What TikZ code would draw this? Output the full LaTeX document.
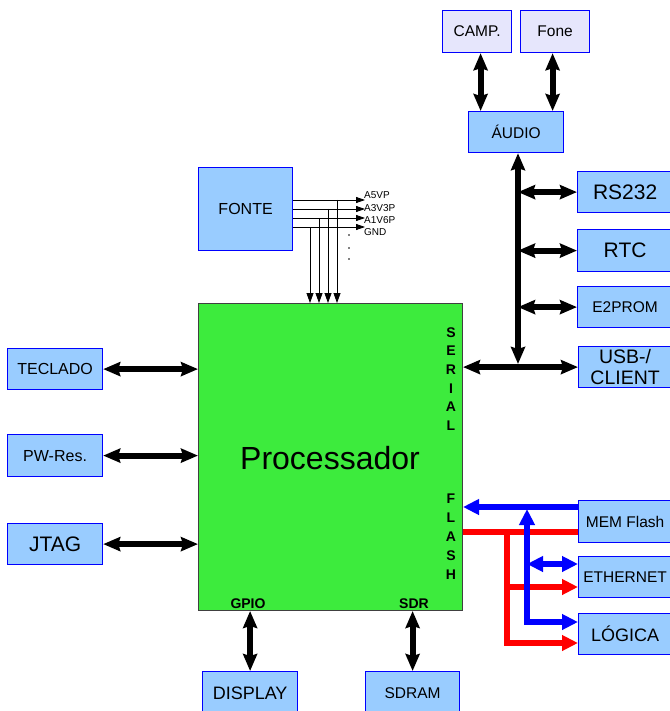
\documentclass[tikz,border=0pt]{standalone}
\usepackage{fontspec}
\setmainfont{Liberation Sans}
\usetikzlibrary{arrows.meta}
\definecolor{boxblue}{RGB}{153,204,255}
\definecolor{lav}{RGB}{230,230,252}
\definecolor{procgreen}{RGB}{61,235,61}
\newcommand\fsz[1]{\fontsize{#1}{#1}\selectfont}
\begin{document}
\begin{tikzpicture}[x=1pt,y=-1pt,
  bbox/.style={draw=blue, line width=1.2pt, fill=boxblue, inner sep=0pt, anchor=north west, align=center},
  lbox/.style={bbox, fill=lav},
  bigarrow/.style={line width=6pt, {Stealth[length=17pt,width=14pt,inset=2pt]}-{Stealth[length=17pt,width=14pt,inset=2pt]}},
  bluearrow/.style={draw=blue, line width=6pt},
  redarrow/.style={draw=red, line width=6pt},
  endtip/.style={-{Triangle[length=16pt,width=15pt]}},
  bothtip/.style={{Triangle[length=16pt,width=15pt]}-{Triangle[length=16pt,width=15pt]}},
  thinarrow/.style={line width=0.8pt, -{Triangle[length=9pt,width=6pt]}},
  downarrow/.style={line width=0.8pt, -{Triangle[length=10pt,width=7pt]}},
  lbl/.style={anchor=west, inner sep=0pt, font=\fsz{10}},
  bold/.style={font=\fsz{14}\bfseries, inner sep=0pt}
]
\useasboundingbox (0,0) rectangle (669,711);

% processor
\node[draw=black!75, line width=1pt, fill=procgreen, anchor=north west, minimum width=264pt, minimum height=307pt, inner sep=0pt] (proc) at (198,303) {};
\node[font=\fsz{32}] (ptext) at (330,458) {Processador};
\node[inner sep=0pt, align=center, font={\fontsize{14}{18.6}\selectfont\bfseries}] (serial) at (451,379) {S\\E\\R\\I\\A\\L};
\node[inner sep=0pt, align=center, font={\fontsize{14}{19}\selectfont\bfseries}] (flash) at (451,537) {F\\L\\A\\S\\H};
\node[bold] (gpio) at (248,604) {GPIO};
\node[bold] (sdr) at (414,604) {SDR};

% boxes
\node[bbox, minimum width=94pt, minimum height=83pt, font=\fsz{16}] (fonte) at (198,167) {FONTE};
\node[lbox, minimum width=69pt, minimum height=42pt, font=\fsz{15.5}] (camp) at (442,10) {CAMP.};
\node[lbox, minimum width=69pt, minimum height=42pt, font=\fsz{15.5}] (fone) at (520,10) {Fone};
\node[bbox, minimum width=95pt, minimum height=41pt, font=\fsz{15.5}] (audio) at (468,111) {ÁUDIO};
\node[bbox, minimum width=95pt, minimum height=41pt, font=\fsz{21}] (rs) at (577,171) {RS232};
\node[bbox, minimum width=95pt, minimum height=42pt, font=\fsz{21}] (rtc) at (577,229) {RTC};
\node[bbox, minimum width=95pt, minimum height=41pt, font=\fsz{15.5}] (e2) at (577,286) {E2PROM};
\node[bbox, minimum width=93pt, minimum height=41pt, font={\fontsize{19.5}{21}\selectfont}] (usb) at (578,346) {USB-/\\CLIENT};
\node[bbox, minimum width=93pt, minimum height=42pt, font=\fsz{15.5}] (mem) at (578,500) {MEM Flash};
\node[bbox, minimum width=93pt, minimum height=41pt, font=\fsz{15.5}] (eth) at (578,556) {ETHERNET};
\node[bbox, minimum width=93pt, minimum height=41pt, font=\fsz{18}] (log) at (578,613) {LÓGICA};
\node[bbox, minimum width=95pt, minimum height=41pt, font=\fsz{16}] (tec) at (7,348) {TECLADO};
\node[bbox, minimum width=95pt, minimum height=42pt, font=\fsz{16}] (pw) at (7,434) {PW-Res.};
\node[bbox, minimum width=95pt, minimum height=41pt, font=\fsz{21}] (jtag) at (7,523) {JTAG};
\node[bbox, minimum width=95pt, minimum height=43pt, font=\fsz{18}] (disp) at (202,671) {DISPLAY};
\node[bbox, minimum width=94pt, minimum height=44pt, font=\fsz{15.5}] (sdram) at (365,671) {SDRAM};

% left arrows
\draw[bigarrow] (tec.east) -- (tec.east -| proc.west);
\draw[bigarrow] (pw.east) -- (pw.east -| proc.west);
\draw[bigarrow] (jtag.east) -- (jtag.east -| proc.west);
% bottom arrows
\draw[bigarrow] (disp.north) -- (disp.north |- proc.south);
\draw[bigarrow] (sdram.north) -- (sdram.north |- proc.south);
% top audio arrows
\draw[bigarrow] ([xshift=3.5pt]camp.south) -- ([xshift=3.5pt]camp.south |- audio.north);
\draw[bigarrow] ([xshift=-2.5pt]fone.south) -- ([xshift=-2.5pt]fone.south |- audio.north);
% serial bus
\coordinate (busb) at (518,364);
\draw[bigarrow] (busb) -- (busb |- audio.south);
\draw[bigarrow] (proc.east |- usb.west) -- (usb.west);
\draw[bigarrow] (busb |- rs.west) -- (rs.west);
\draw[bigarrow] (busb |- rtc.west) -- (rtc.west);
\draw[bigarrow] (busb |- e2.west) -- (e2.west);

% flash bus: red
\coordinate (rtop) at (507,532);
\coordinate (rbot) at (507,643);
\coordinate (rmid) at (507,587);
\draw[redarrow] (proc.east |- rtop) -- (mem.west |- rtop);
\draw[redarrow, endtip] (rtop) -- (rbot) -- (log.west |- rbot);
\draw[redarrow, endtip] (rmid) -- (eth.west |- rmid);
% flash bus: blue
\coordinate (btop) at (527,507);
\coordinate (bbot) at (527,622);
\coordinate (bmid) at (527,564);
\draw[bluearrow, endtip] (mem.west |- btop) -- (btop -| proc.east);
\draw[bluearrow, bothtip] ([yshift=-2pt]btop) -- (bbot) -- (log.west |- bbot);
\draw[bluearrow, bothtip] (bmid) -- (eth.west |- bmid);

% power lines
\coordinate (p1) at (365,200);
\coordinate (p2) at (365,209);
\coordinate (p3) at (365,218);
\coordinate (p4) at (365,227);
\draw[thinarrow] (fonte.east |- p1) -- (p1);
\draw[thinarrow] (fonte.east |- p2) -- (p2);
\draw[thinarrow] (fonte.east |- p3) -- (p3);
\draw[thinarrow] (fonte.east |- p4) -- (p4);
\draw[downarrow] (337,200) -- (337,0 |- proc.north);
\draw[downarrow] (328,209) -- (328,0 |- proc.north);
\draw[downarrow] (319,218) -- (319,0 |- proc.north);
\draw[downarrow] (310,227) -- (310,0 |- proc.north);
\node[lbl] (l1) at (364,195) {A5VP};
\node[lbl] (l2) at (364,208) {A3V3P};
\node[lbl] (l3) at (364,220) {A1V6P};
\node[lbl] (l4) at (364,232) {GND};
\fill (349,235) circle (0.8pt);
\fill (349,248) circle (0.8pt);
\fill (349,259) circle (0.8pt);
\end{tikzpicture}
\end{document}
